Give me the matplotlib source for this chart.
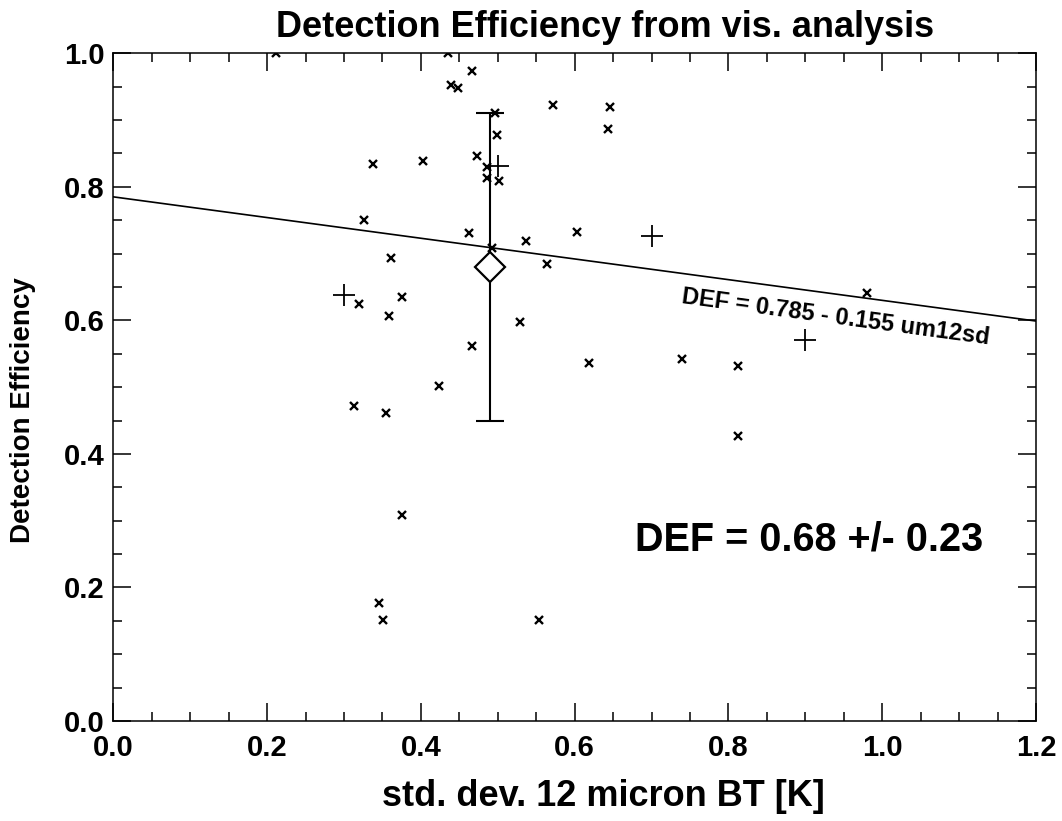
import numpy as np
import matplotlib
matplotlib.use('Agg')
import matplotlib.pyplot as plt
from matplotlib.ticker import MultipleLocator

plt.rcParams['font.family'] = ['Liberation Sans', 'DejaVu Sans']
plt.rcParams['font.weight'] = 'bold'

# individual cases
x_pts = [0.211, 0.435, 0.439, 0.448, 0.467, 0.338, 0.403, 0.473, 0.486, 0.486,
         0.326, 0.463, 0.361, 0.375, 0.320, 0.359, 0.496, 0.499, 0.502, 0.572,
         0.646, 0.644, 0.492, 0.537, 0.564, 0.529, 0.603, 0.980, 0.619, 0.739,
         0.812, 0.812, 0.467, 0.423, 0.313, 0.355, 0.376, 0.346, 0.351, 0.554]
y_pts = [1.000, 1.000, 0.952, 0.948, 0.974, 0.834, 0.838, 0.846, 0.830, 0.813,
         0.750, 0.731, 0.693, 0.635, 0.625, 0.606, 0.910, 0.877, 0.809, 0.922,
         0.920, 0.887, 0.709, 0.719, 0.685, 0.598, 0.732, 0.641, 0.536, 0.542,
         0.532, 0.427, 0.561, 0.501, 0.472, 0.461, 0.308, 0.176, 0.152, 0.151]

# binned means
bin_x = [0.30, 0.50, 0.70, 0.90]
bin_y = [0.638, 0.831, 0.727, 0.570]

# overall mean and spread
mean_x = 0.49
mean_def = 0.68
sd_def = 0.23

# linear fit
fit_a = 0.785
fit_b = -0.155

fig = plt.figure(figsize=(10.62, 8.21), dpi=100)
ax = fig.add_axes([113.3 / 1062, 1 - 721 / 821, (1036 - 113.3) / 1062, (721 - 53.3) / 821])

ax.plot(x_pts, y_pts, 'x', color='black', markersize=6, mew=1.7)
ax.plot(bin_x, bin_y, '+', color='black', markersize=16, mew=1.3)

xx = np.array([0.0, 1.2])
ax.plot(xx, fit_a + fit_b * xx, color='black', lw=1.2)

ax.errorbar([mean_x], [mean_def], yerr=[sd_def], fmt='none', ecolor='black',
            elinewidth=1.5, capsize=10, capthick=1.5)
ax.plot([mean_x], [mean_def], 'D', markersize=15, mfc='white', mec='black', mew=1.6)

ax.set_xlim(0, 1.2)
ax.set_ylim(0, 1.0)
ax.xaxis.set_major_locator(MultipleLocator(0.2))
ax.xaxis.set_minor_locator(MultipleLocator(0.05))
ax.yaxis.set_major_locator(MultipleLocator(0.2))
ax.yaxis.set_minor_locator(MultipleLocator(0.05))
ax.xaxis.set_major_formatter(matplotlib.ticker.FormatStrFormatter('%.1f'))
ax.yaxis.set_major_formatter(matplotlib.ticker.FormatStrFormatter('%.1f'))
ax.tick_params(which='both', direction='in', top=True, right=True, width=1.1)
ax.tick_params(which='major', length=13, labelsize=21)
ax.tick_params(axis='x', which='major', pad=9)
ax.tick_params(axis='y', which='major', pad=6)
ax.tick_params(which='minor', length=6.5)
for s in ax.spines.values():
    s.set_linewidth(1.1)

ax.text(0.678, 0.256, 'DEF = 0.68 +/- 0.23', fontsize=28.5, fontweight='bold',
        ha='left', va='baseline')
angle = np.degrees(np.arctan(fit_b * (721 - 53.3) / (1036 - 113.3) * 1.2))
ax.text(0.738, 0.626, 'DEF = 0.785 - 0.155 um12sd', fontsize=17, fontweight='bold',
        rotation=angle, rotation_mode='anchor', ha='left', va='baseline')

fig.text(605 / 1062, 1 - 37 / 821, 'Detection Efficiency from vis. analysis',
         fontsize=26, fontweight='bold', ha='center', va='baseline')
fig.text(603 / 1062, 1 - 806 / 821, 'std. dev. 12 micron BT [K]',
         fontsize=26, fontweight='bold', ha='center', va='baseline')
fig.text(23 / 1062, 1 - 410 / 821, 'Detection Efficiency', fontsize=20,
         fontweight='bold', ha='center', va='center', rotation=90)

fig.savefig('out.png', dpi=100)
